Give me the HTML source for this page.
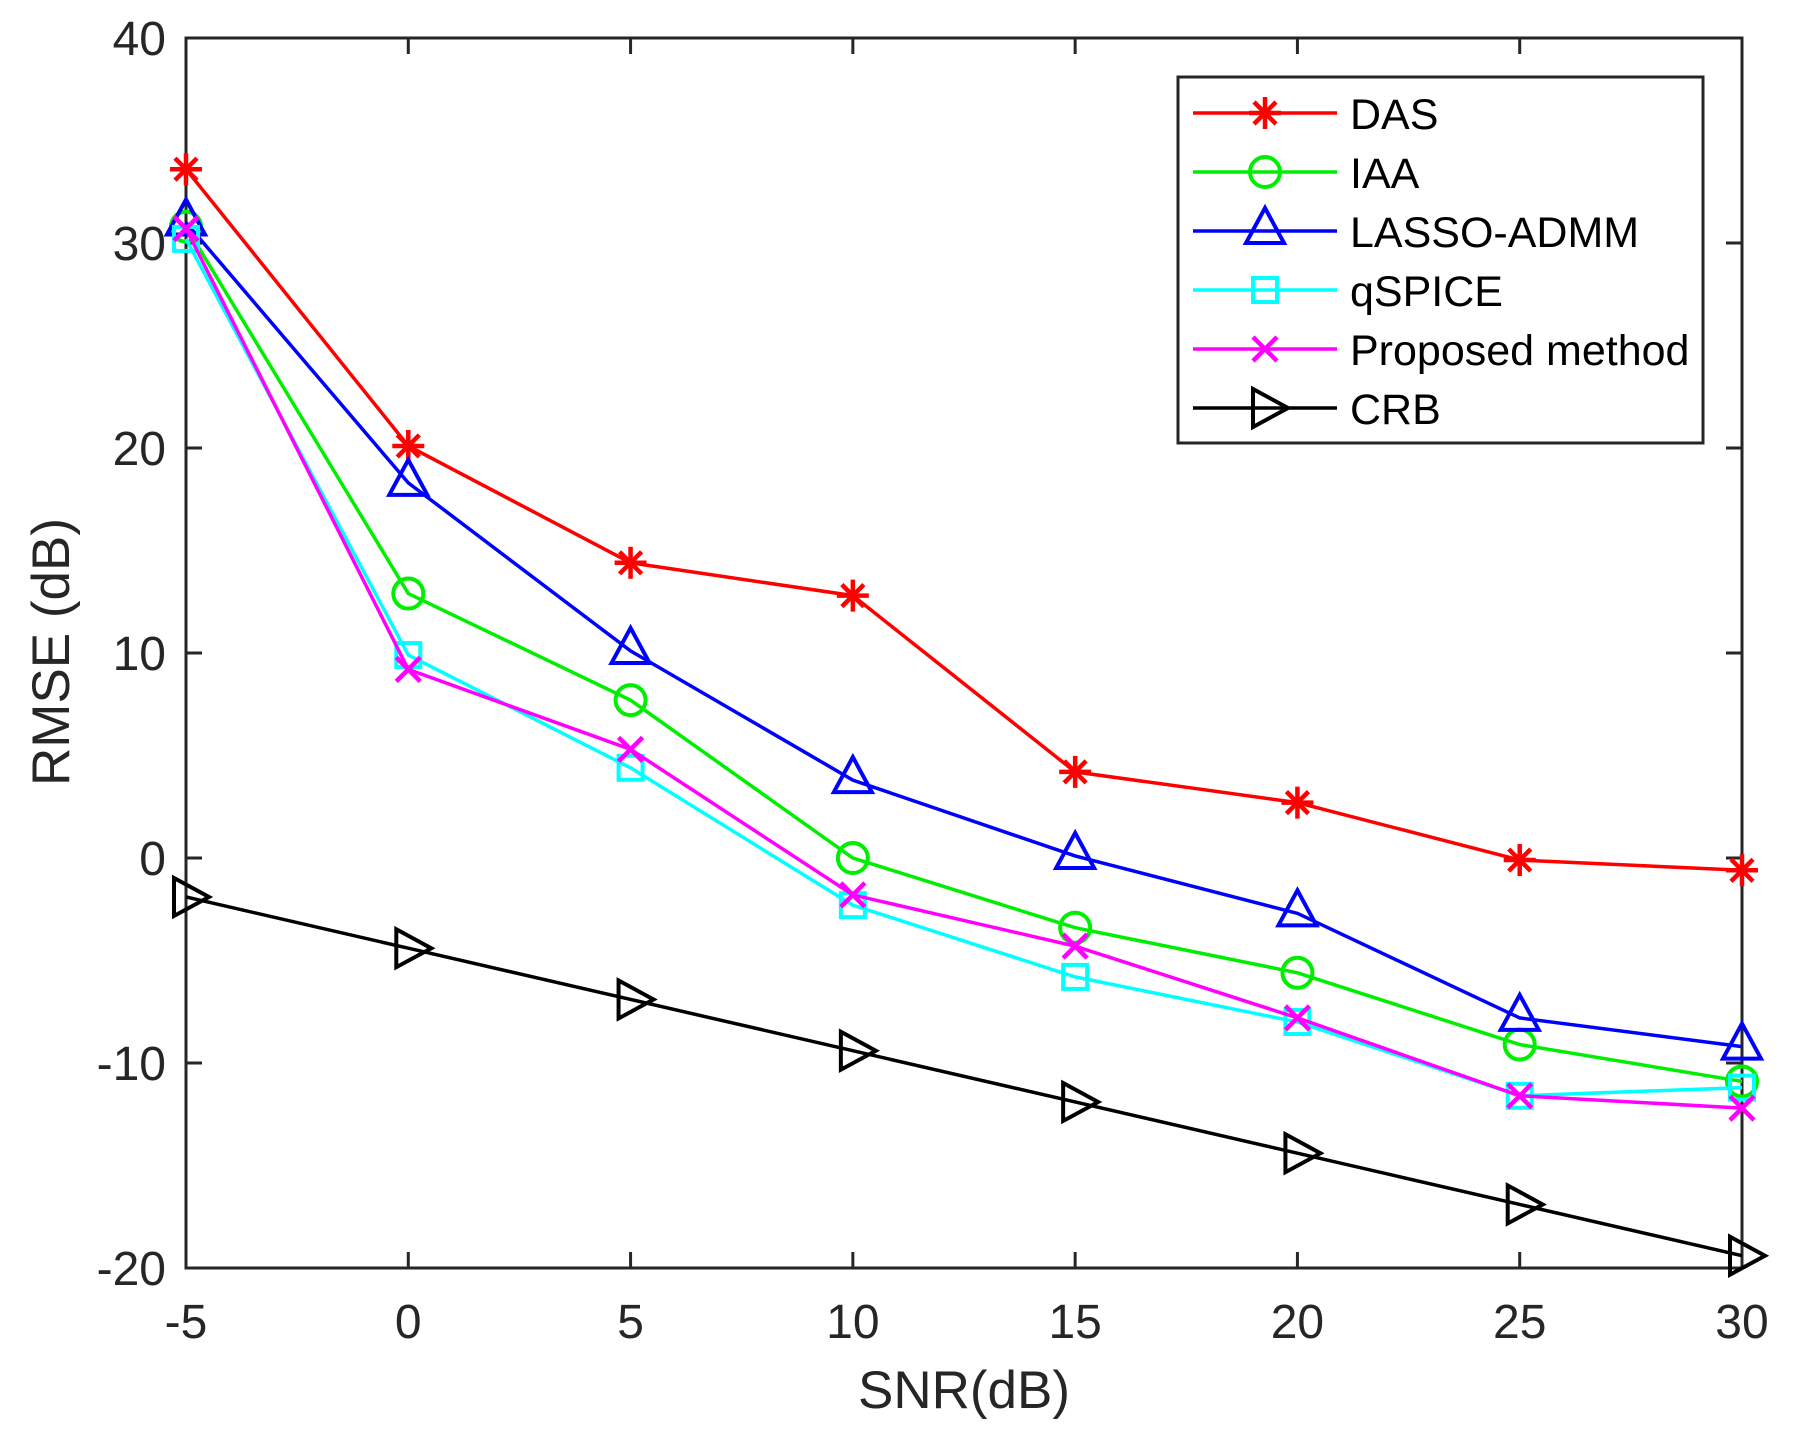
<!DOCTYPE html>
<html><head><meta charset="utf-8"><style>
html,body{margin:0;padding:0;background:#fff;}
svg{display:block;font-family:"Liberation Sans",Arial,sans-serif;}
</style></head><body>
<svg id="s" width="1794" height="1437" viewBox="0 0 1794 1437" xmlns="http://www.w3.org/2000/svg"></svg>
<script>
const s=document.getElementById('s');
const X0=186,X1=1742,Y0=38,Y1=1268;
const fx=v=>X0+(v+5)*(X1-X0)/35, fy=v=>Y0+(40-v)*(Y1-Y0)/60;
let h='';
h+=`<rect x="${X0}" y="${Y0}" width="${X1-X0}" height="${Y1-Y0}" fill="#fff" stroke="#262626" stroke-width="3"/>`;
for(let v=-5;v<=30;v+=5){const x=fx(v);
 h+=`<line x1="${x}" y1="${Y1}" x2="${x}" y2="${Y1-16}" stroke="#262626" stroke-width="3"/><line x1="${x}" y1="${Y0}" x2="${x}" y2="${Y0+16}" stroke="#262626" stroke-width="3"/>`;
 h+=`<text x="${x}" y="1338" font-size="48" fill="#262626" text-anchor="middle">${v}</text>`;}
for(let v=-20;v<=40;v+=10){const y=fy(v);
 h+=`<line x1="${X0}" y1="${y}" x2="${X0+16}" y2="${y}" stroke="#262626" stroke-width="3"/><line x1="${X1}" y1="${y}" x2="${X1-16}" y2="${y}" stroke="#262626" stroke-width="3"/>`;
 h+=`<text x="166" y="${y+17}" font-size="48" fill="#262626" text-anchor="end">${v}</text>`;}
h+=`<text x="964" y="1408" font-size="53" fill="#262626" text-anchor="middle">SNR(dB)</text>`;
h+=`<text transform="translate(69,652) rotate(-90)" font-size="53" fill="#262626" text-anchor="middle">RMSE (dB)</text>`;
function mk(t,x,y,c){const r=16;
 if(t=='*')return `<g stroke="${c}" stroke-width="4.5"><line x1="${x-r}" y1="${y}" x2="${x+r}" y2="${y}"/><line x1="${x}" y1="${y-r}" x2="${x}" y2="${y+r}"/><line x1="${x-11}" y1="${y-11}" x2="${x+11}" y2="${y+11}"/><line x1="${x-11}" y1="${y+11}" x2="${x+11}" y2="${y-11}"/></g>`;
 if(t=='o')return `<circle cx="${x}" cy="${y}" r="15" fill="none" stroke="${c}" stroke-width="4"/>`;
 if(t=='^')return `<polygon points="${x},${y-23} ${x-19},${y+12} ${x+19},${y+12}" fill="none" stroke="${c}" stroke-width="4"/>`;
 if(t=='s')return `<rect x="${x-12}" y="${y-12}" width="24" height="24" fill="none" stroke="${c}" stroke-width="4"/>`;
 if(t=='x')return `<g stroke="${c}" stroke-width="4.5"><line x1="${x-12}" y1="${y-12}" x2="${x+12}" y2="${y+12}"/><line x1="${x-12}" y1="${y+12}" x2="${x+12}" y2="${y-12}"/></g>`;
 if(t=='>')return `<polygon points="${x+23},${y} ${x-12},${y-19} ${x-12},${y+19}" fill="none" stroke="${c}" stroke-width="4"/>`;}
const S=[
 ['DAS','#ff0000','*',[33.6,20.1,14.4,12.8,4.2,2.7,-0.1,-0.6]],
 ['IAA','#00ee00','o',[30.8,12.9,7.7,0,-3.4,-5.6,-9.1,-10.9]],
 ['LASSO-ADMM','#0000ff','^',[31,18.3,10.1,3.8,0.1,-2.7,-7.8,-9.2]],
 ['qSPICE','#00ffff','s',[30.2,9.9,4.4,-2.3,-5.8,-8,-11.6,-11.2]],
 ['Proposed method','#ff00ff','x',[30.7,9.2,5.3,-1.8,-4.3,-7.8,-11.6,-12.2]],
 ['CRB','#000000','>',[-1.9,-4.4,-6.9,-9.4,-11.9,-14.4,-16.9,-19.4]]];
S.forEach(([n,c,t,d])=>{
 const pts=d.map((v,i)=>[fx(-5+5*i),fy(v)]);
 h+=`<polyline points="${pts.map(p=>p.join(',')).join(' ')}" fill="none" stroke="${c}" stroke-width="3.5"/>`;
 pts.forEach(p=>h+=mk(t,p[0],p[1],c));});
h+=`<rect x="1178" y="77" width="525" height="366" fill="#fff" stroke="#262626" stroke-width="3"/>`;
S.forEach(([n,c,t],i)=>{const y=113+i*59;
 h+=`<line x1="1193" y1="${y}" x2="1337" y2="${y}" stroke="${c}" stroke-width="3.5"/>`+mk(t,1265,y,c);
 h+=`<text x="1350" y="${y+16}" font-size="43" fill="#000">${n}</text>`;});
s.innerHTML=h;
</script>
</body></html>
